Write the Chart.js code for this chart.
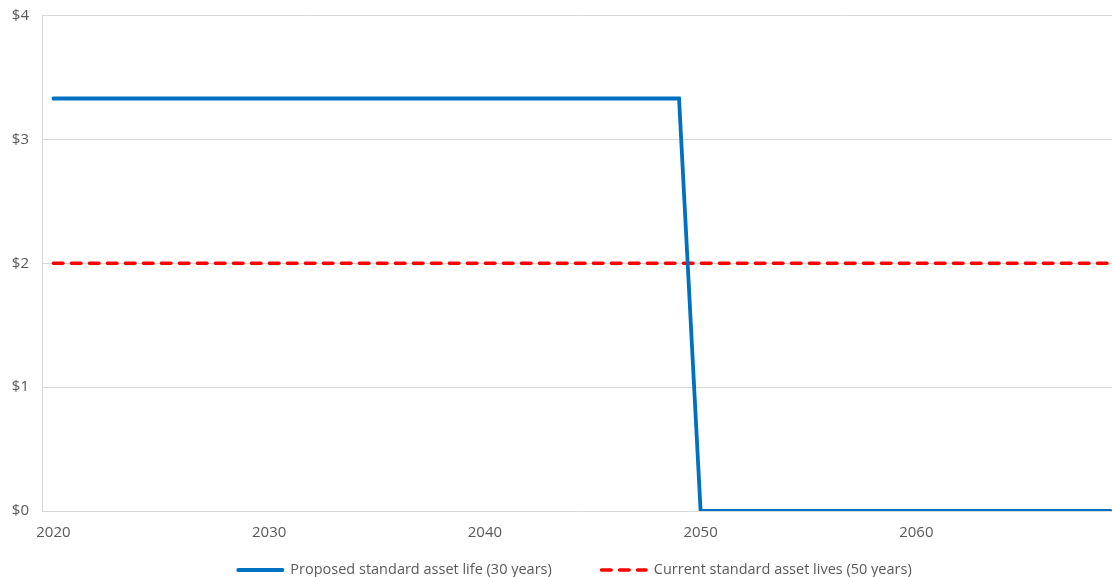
<!DOCTYPE html>
<html>
<head>
<meta charset="utf-8">
<script src="https://cdn.jsdelivr.net/npm/chart.js@4/dist/chart.umd.min.js"></script>
<style>
  html, body { margin: 0; padding: 0; background: #ffffff; }
  #wrap { width: 1112px; height: 577px; position: relative; }
</style>
</head>
<body>
<div id="wrap"><canvas id="c" width="1112" height="577"></canvas></div>
<script>
const years = [2020,2021,2022,2023,2024,2025,2026,2027,2028,2029,
               2030,2031,2032,2033,2034,2035,2036,2037,2038,2039,
               2040,2041,2042,2043,2044,2045,2046,2047,2048,2049,
               2050,2051,2052,2053,2054,2055,2056,2057,2058,2059,
               2060,2061,2062,2063,2064,2065,2066,2067,2068,2069];
const proposedLife30 = [3.33,3.33,3.33,3.33,3.33,3.33,3.33,3.33,3.33,3.33,
                        3.33,3.33,3.33,3.33,3.33,3.33,3.33,3.33,3.33,3.33,
                        3.33,3.33,3.33,3.33,3.33,3.33,3.33,3.33,3.33,3.33,
                        0,0,0,0,0,0,0,0,0,0,
                        0,0,0,0,0,0,0,0,0,0];
const currentLives50 = [2,2,2,2,2,2,2,2,2,2,
                        2,2,2,2,2,2,2,2,2,2,
                        2,2,2,2,2,2,2,2,2,2,
                        2,2,2,2,2,2,2,2,2,2,
                        2,2,2,2,2,2,2,2,2,2];
const xTickYears = [2020, 2030, 2040, 2050, 2060];
const yTickValues = [0, 1, 2, 3, 4];
const seriesNames = ['Proposed standard asset life (30 years)', 'Current standard asset lives (50 years)'];

const FONT = '"Open Sans", Lato, sans-serif';
const FSIZE = 15;
const LEGEND_FSIZE = 14.5;
const TXT = '#595959';
const GRID = '#d9d9d9';

const toPoints = vals => years.map((y, i) => ({ x: y, y: vals[i] }));

const legendPlugin = {
  id: 'bottomLegend',
  afterDraw(chart) {
    const ctx = chart.ctx;
    const ca = chart.chartArea;
    const sample = 48, gapText = 6, gapItem = 48;
    ctx.save();
    ctx.font = LEGEND_FSIZE + 'px ' + FONT;
    const items = chart.data.datasets.map(ds => ({ ds, w: ctx.measureText(ds.label).width }));
    let total = 0;
    items.forEach((it, i) => { total += sample + gapText + it.w + (i ? gapItem : 0); });
    let x = (ca.left + ca.right) / 2 - 3 - total / 2;
    const y = 570;
    items.forEach(it => {
      ctx.save();
      ctx.strokeStyle = it.ds.borderColor;
      ctx.lineWidth = it.ds.borderWidth;
      ctx.lineCap = it.ds.borderCapStyle || 'butt';
      ctx.setLineDash(it.ds.borderDash || []);
      ctx.beginPath();
      const pad = (ctx.lineCap === 'round') ? it.ds.borderWidth / 2 : 0;
      ctx.moveTo(x + pad, y);
      ctx.lineTo(x + sample - pad, y);
      ctx.stroke();
      ctx.restore();
      ctx.fillStyle = TXT;
      ctx.textBaseline = 'middle';
      ctx.textAlign = 'left';
      ctx.fillText(it.ds.label, x + sample + gapText, y);
      x += sample + gapText + it.w + gapItem;
    });
    ctx.restore();
  }
};

new Chart(document.getElementById('c'), {
  type: 'line',
  data: {
    datasets: [
      {
        label: seriesNames[0],
        data: toPoints(proposedLife30),
        borderColor: '#0070C0',
        backgroundColor: '#0070C0',
        borderWidth: 3.8,
        borderCapStyle: 'round',
        borderJoinStyle: 'miter',
        pointRadius: 0,
        tension: 0,
        fill: false,
        order: 1
      },
      {
        label: seriesNames[1],
        data: toPoints(currentLives50),
        borderColor: '#FF0000',
        backgroundColor: '#FF0000',
        borderWidth: 3.6,
        borderDash: [9.5, 8.5],
        borderCapStyle: 'round',
        pointRadius: 0,
        tension: 0,
        fill: false,
        order: 2
      }
    ]
  },
  options: {
    responsive: false,
    animation: false,
    events: [],
    layout: { padding: { top: 15.5, right: 0, bottom: 0, left: 0 } },
    plugins: {
      legend: { display: false },
      tooltip: { enabled: false },
      title: { display: false }
    },
    scales: {
      x: {
        type: 'linear',
        min: 2019.47,
        max: 2069.07,
        afterBuildTicks: s => { s.ticks = xTickYears.map(v => ({ value: v })); },
        afterFit: s => { s.height = 66; s.paddingLeft = 0; s.paddingRight = 0; },
        grid: { display: false, drawTicks: false },
        border: { display: true, color: GRID, width: 1 },
        ticks: {
          padding: 13,
          color: TXT,
          font: { family: FONT, size: FSIZE },
          maxRotation: 0,
          autoSkip: false,
          callback: v => String(v)
        }
      },
      y: {
        type: 'linear',
        min: 0,
        max: 4,
        afterBuildTicks: s => { s.ticks = yTickValues.map(v => ({ value: v })); },
        afterFit: s => { s.width = 42; s.paddingTop = 0; s.paddingBottom = 0; },
        grid: { color: GRID, lineWidth: 1, drawTicks: false },
        border: { display: true, color: GRID, width: 1 },
        ticks: {
          padding: 13,
          color: TXT,
          font: { family: FONT, size: FSIZE },
          callback: v => '$' + v
        }
      }
    }
  },
  plugins: [legendPlugin]
});
</script>
</body>
</html>
